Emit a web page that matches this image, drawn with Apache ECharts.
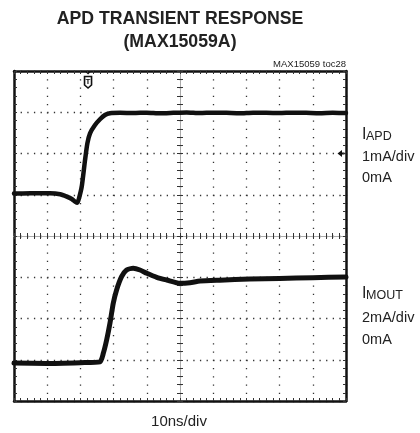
<!DOCTYPE html>
<html>
<head>
<meta charset="utf-8">
<script src="https://cdn.jsdelivr.net/npm/echarts@6/dist/echarts.min.js"></script>
<style>
html,body{margin:0;padding:0;background:#fff;}
#c{width:420px;height:433px;}
</style>
</head>
<body>
<div id="c"></div>
<script>
// ---- data (time in ns, amplitude in screen divisions) ----
const apdTime = [0, 5, 10.8, 13.9, 15.9, 17.4, 18.4, 19.1, 19.6, 20.4, 21.4, 22.1, 22.9, 24.4, 25.9, 27.4, 28.9, 32, 36, 40, 44, 48, 52, 56, 60, 64, 68, 72, 76, 80, 84, 88, 92, 96, 100];
const apdDiv  = [1.03, 1.035, 1.035, 1.011, 0.953, 0.897, 0.836, 0.807, 0.92, 1.195, 1.842, 2.247, 2.49, 2.69, 2.83, 2.933, 2.975, 2.985, 2.98, 2.99, 2.975, 2.985, 2.995, 2.98, 2.99, 2.985, 2.975, 2.99, 2.985, 2.98, 2.99, 2.985, 2.975, 2.985, 2.98];
const moutTime = [0, 10, 20, 25.9, 26.9, 27.9, 28.9, 29.9, 30.9, 32.4, 33.9, 35.9, 37.95, 40, 43, 46, 50, 53, 56, 62, 71, 80, 90, 100];
const moutDiv  = [-3.08, -3.09, -3.07, -3.05, -2.844, -2.521, -2.116, -1.632, -1.309, -0.987, -0.824, -0.783, -0.824, -0.904, -1.001, -1.067, -1.147, -1.132, -1.091, -1.07, -1.045, -1.03, -1.01, -0.995];
const xTicks = [0, 100, 10];      // min, max, interval (ns) -> 10ns/div
const yTicks = [-4, 4, 1];        // divisions
const triggerTime = 22.3;         // trigger marker position (ns)
const apdZeroDiv = 2;             // ground marker for IAPD

const chart = echarts.init(document.getElementById('c'), null, {renderer: 'canvas'});

const GRID = {left: 14, right: 74, top: 71, bottom: 32};
const frameLine = {show: true, onZero: false, lineStyle: {color: '#111', width: 2.5}};
const tickStyle = {color: '#333', width: 1};

function xAx(pos, offset, inside, line, split) {
  return {
    type: 'value', min: xTicks[0], max: xTicks[1], interval: xTicks[2],
    position: pos, offset: offset,
    axisLine: line,
    axisTick: {show: true, inside: inside, length: 3, lineStyle: tickStyle},
    minorTick: {show: true, splitNumber: 5, length: 3, lineStyle: tickStyle},
    axisLabel: {show: false},
    splitLine: split ? {show: true, lineStyle: {color: '#333', width: 1.3, type: [1.3, 6.95]}} : {show: false},
    minorSplitLine: {show: false}
  };
}
function yAx(pos, offset, inside, line, split) {
  return {
    type: 'value', min: yTicks[0], max: yTicks[1], interval: yTicks[2],
    position: pos, offset: offset,
    axisLine: line,
    axisTick: {show: true, inside: inside, length: 3, lineStyle: tickStyle},
    minorTick: {show: true, splitNumber: 5, length: 3, lineStyle: tickStyle},
    axisLabel: {show: false},
    splitLine: split ? {show: true, lineStyle: {color: '#333', width: 1.3, type: [1.3, 5.34]}} : {show: false},
    minorSplitLine: {show: false}
  };
}
const centerLine = {show: true, onZero: false, lineStyle: {color: '#aaa', width: 1}};

const option = {
  backgroundColor: '#fff',
  animation: false,
  grid: GRID,
  xAxis: [
    xAx('bottom', 0, true, frameLine, true),
    xAx('top', 0, true, frameLine, false),
    xAx('bottom', -165, true, centerLine, false),
    xAx('bottom', -165, false, centerLine, false)
  ],
  yAxis: [
    yAx('left', 0, true, frameLine, true),
    yAx('right', 0, true, frameLine, false),
    yAx('left', -166, true, centerLine, false),
    yAx('left', -166, false, centerLine, false)
  ],
  series: [
    {
      name: 'IAPD', type: 'line', xAxisIndex: 0, yAxisIndex: 0,
      data: apdTime.map((t, i) => [t, apdDiv[i]]),
      showSymbol: false, smooth: 0.2,
      lineStyle: {color: '#111', width: 4.5, join: 'round', cap: 'round'}
    },
    {
      name: 'IMOUT', type: 'line', xAxisIndex: 0, yAxisIndex: 0,
      data: moutTime.map((t, i) => [t, moutDiv[i]]),
      showSymbol: false, smooth: 0.2,
      lineStyle: {color: '#111', width: 5, join: 'round', cap: 'round'}
    }
  ]
};
chart.setOption(option);

const FONT = '"Liberation Sans", Arial, Helvetica, sans-serif';
function txt(x, y, s, font, align, valign) {
  return {type: 'text', x: x, y: y, silent: true,
    style: {text: s, font: font, fill: '#222', textAlign: align || 'left', textVerticalAlign: valign || 'middle'}};
}
const trigX = chart.convertToPixel({xAxisIndex: 0}, triggerTime);
const gndY = chart.convertToPixel({yAxisIndex: 0}, apdZeroDiv);
const rightX = chart.convertToPixel({xAxisIndex: 0}, xTicks[1]);
const topY = chart.convertToPixel({yAxisIndex: 0}, yTicks[1]);

chart.setOption({
  graphic: [
    txt(180, 19, 'APD TRANSIENT RESPONSE', 'bold 17.7px ' + FONT, 'center'),
    txt(180, 42, '(MAX15059A)', 'bold 17.7px ' + FONT, 'center'),
    txt(346, 64, 'MAX15059 toc28', '9.5px ' + FONT, 'right'),
    txt(362, 143, 'I', '16px ' + FONT, 'left', 'bottom'),
    txt(366, 143, 'APD', '12.5px ' + FONT, 'left', 'bottom'),
    txt(362, 157, '1mA/div', '14.5px ' + FONT, 'left'),
    txt(362, 178, '0mA', '14.5px ' + FONT, 'left'),
    txt(362, 302, 'I', '16px ' + FONT, 'left', 'bottom'),
    txt(366, 302, 'MOUT', '12.5px ' + FONT, 'left', 'bottom'),
    txt(362, 318, '2mA/div', '14.5px ' + FONT, 'left'),
    txt(362, 340, '0mA', '14.5px ' + FONT, 'left'),
    txt(179, 422, '10ns/div', '15px ' + FONT, 'center'),
    // trigger marker
    {type: 'polygon', x: trigX, y: topY, silent: true,
      shape: {points: [[-3.5, 0], [3.5, 0], [0, 3.5]]}, style: {fill: '#111'}},
    {type: 'polygon', x: trigX, y: topY, silent: true,
      shape: {points: [[-3.5, 5.5], [3.5, 5.5], [3.5, 14], [0, 17], [-3.5, 14]]},
      style: {fill: '#fff', stroke: '#111', lineWidth: 1.6}},
    {type: 'text', x: trigX, y: topY + 10.5, silent: true,
      style: {text: 'T', font: 'bold 8px ' + FONT, fill: '#111', textAlign: 'center', textVerticalAlign: 'middle'}},
    // ground marker for IAPD
    {type: 'polygon', x: rightX, y: gndY, silent: true,
      shape: {points: [[-8.5, 0], [-4, -3.5], [-4, 3.5]]}, style: {fill: '#111'}},
    {type: 'rect', x: rightX, y: gndY, silent: true,
      shape: {x: -4.5, y: -1, width: 3, height: 2}, style: {fill: '#111'}}
  ]
});
</script>
</body>
</html>
